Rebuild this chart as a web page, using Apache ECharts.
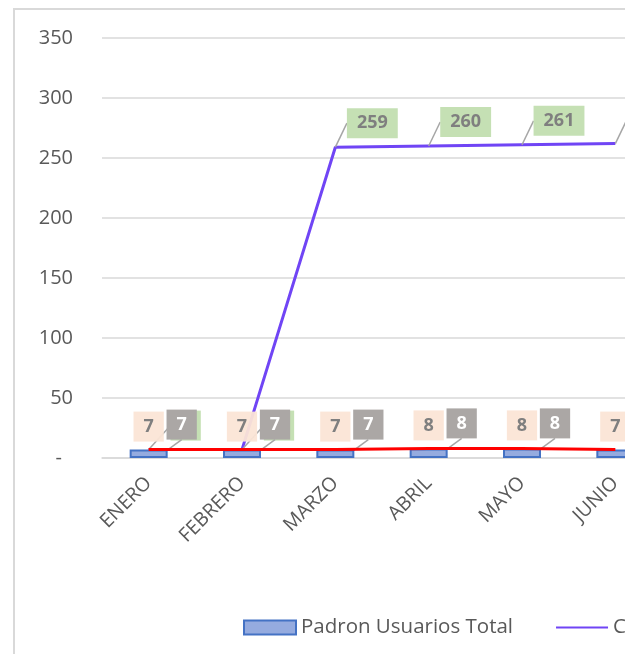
<!DOCTYPE html>
<html>
<head>
<meta charset="utf-8">
<script src="https://cdn.jsdelivr.net/npm/echarts@6/dist/echarts.min.js"></script>
<style>
  html, body { margin: 0; padding: 0; background: #fff; }
  #clip { position: absolute; left: 0; top: 0; width: 625px; height: 654px; overflow: hidden; }
  #marco { position: absolute; left: 13px; top: 8px; width: 900px; height: 900px; border: 2px solid #d9d9d9; }
  #grafico { position: absolute; left: 0; top: 0; width: 720px; height: 654px; }
</style>
</head>
<body>
<div id="clip">
  <div id="marco"></div>
  <div id="grafico"></div>
</div>
<script>
// datos
const meses = ['ENERO', 'FEBRERO', 'MARZO', 'ABRIL', 'MAYO', 'JUNIO']
const padronTotal = [7, 7, 7, 8, 8, 7]
const serieC = [7, 7, 259, 260, 261, 262]
const serieRoja = [7, 7, 7, 8, 8, 7]
const ejeY = { min: 0, max: 350, interval: 50 }

const gris = '#595959'
const fuente = 'Open Sans'

const chart = echarts.init(document.getElementById('grafico'))

// estilo comun de las etiquetas
const etiqueta = (fondo, texto) => ({
  show: true,
  backgroundColor: fondo,
  color: texto,
  fontFamily: fuente,
  fontWeight: 'bold',
  fontSize: 18,
  lineHeight: 18,
  padding: [6, 10]
})

const option = {
  animation: false,
  grid: { left: 102, right: 58, top: 38, bottom: 196 },
  legend: {
    left: 238,
    top: 612,
    itemWidth: 52,
    itemHeight: 14,
    itemGap: 42,
    textStyle: { color: gris, fontSize: 20.5, fontFamily: fuente },
    data: [
      { name: 'Padron Usuarios Total', icon: 'rect' },
      { name: 'Consumo', itemStyle: { opacity: 0 } },
      { name: 'Serie 3', itemStyle: { opacity: 0 } }
    ]
  },
  xAxis: {
    type: 'category',
    data: meses,
    axisLine: { lineStyle: { color: '#d9d9d9', width: 1.5 } },
    axisTick: { show: false },
    axisLabel: { rotate: 45, margin: 22, color: gris, fontSize: 19.5, fontFamily: fuente }
  },
  yAxis: {
    type: 'value',
    min: ejeY.min,
    max: ejeY.max,
    interval: ejeY.interval,
    axisLine: { show: false },
    axisTick: { show: false },
    splitLine: { lineStyle: { color: '#d9d9d9', width: 1.5 } },
    axisLabel: {
      margin: 29,
      color: gris,
      fontSize: 20,
      fontFamily: fuente,
      formatter: v => (v === 0 ? '{g|-}' : String(v)),
      rich: { g: { color: gris, fontSize: 20, fontFamily: fuente, padding: [0, 11, 0, 0] } }
    }
  },
  series: [
    {
      name: 'Consumo',
      type: 'line',
      data: serieC,
      z: 2,
      symbol: 'circle',
      symbolSize: 0.1,
      itemStyle: { color: '#7045f5' },
      lineStyle: { color: '#7045f5', width: 3 },
      label: Object.assign(etiqueta('#c5e0b4', '#7f7f7f'), { position: 'inside' }),
      labelLayout: { dx: 37, dy: -24 },
      labelLine: { show: true, lineStyle: { color: '#a6a6a6', width: 1.5 } }
    },
    {
      name: 'Padron Usuarios Total',
      type: 'bar',
      data: padronTotal,
      z: 3,
      barWidth: 38,
      itemStyle: { color: '#95abdf', borderColor: '#4472c4', borderWidth: 2 },
      label: Object.assign(etiqueta('#aba7a5', '#ffffff'), { position: 'top', distance: 0 }),
      labelLayout: { dx: 33, dy: -10 },
      labelLine: { show: true, lineStyle: { color: '#a6a6a6', width: 1.5 } }
    },
    {
      name: 'Serie 3',
      type: 'line',
      data: serieRoja,
      z: 4,
      symbol: 'circle',
      symbolSize: 0.1,
      itemStyle: { color: '#ff0000' },
      lineStyle: { color: '#ff0000', width: 3 },
      label: Object.assign(etiqueta('rgba(251,229,214,0.95)', '#7f7f7f'), { position: 'inside' }),
      labelLayout: { dx: 0, dy: -23 }
    }
  ]
}

chart.setOption(option)
</script>
</body>
</html>
